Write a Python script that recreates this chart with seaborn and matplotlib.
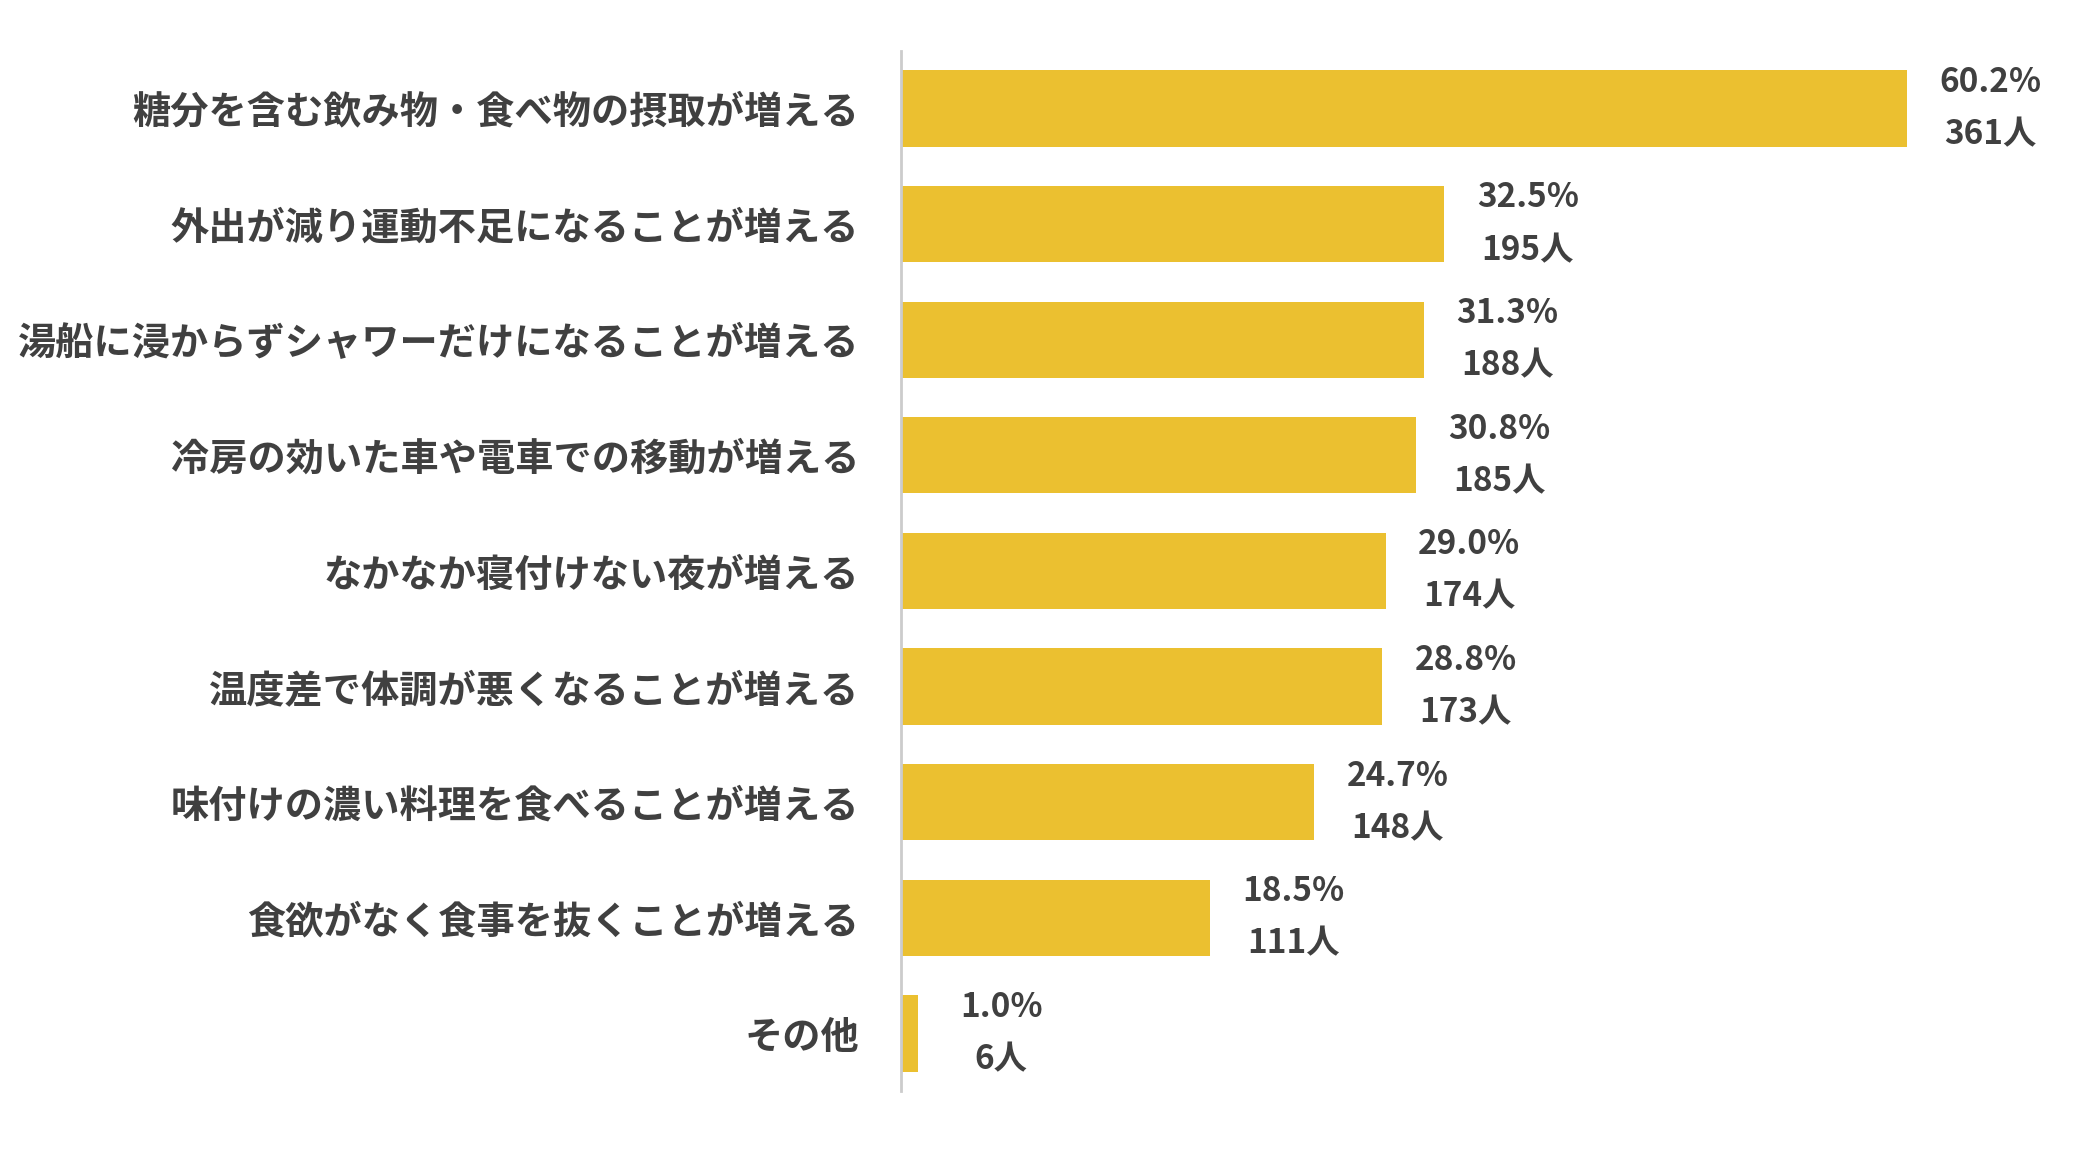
import matplotlib
matplotlib.use("Agg")
import matplotlib.pyplot as plt
import seaborn as sns
import pandas as pd

categories = ["糖分を含む飲み物・食べ物の摂取が増える", "外出が減り運動不足になることが増える",
              "湯船に浸からずシャワーだけになることが増える", "冷房の効いた車や電車での移動が増える",
              "なかなか寝付けない夜が増える", "温度差で体調が悪くなることが増える",
              "味付けの濃い料理を食べることが増える", "食欲がなく食事を抜くことが増える", "その他"]
percent = [60.2, 32.5, 31.3, 30.8, 29.0, 28.8, 24.7, 18.5, 1.0]
counts = [361, 195, 188, 185, 174, 173, 148, 111, 6]

plt.rcParams["font.family"] = "Noto Sans CJK JP"
df = pd.DataFrame({"cat": categories, "pct": percent})
fig = plt.figure(figsize=(20.76, 11.5), dpi=100)
ax = fig.add_axes([0.434, 0.051, 0.566, 0.905])
sns.barplot(data=df, x="pct", y="cat", color="#EBC030", width=0.66, ax=ax, saturation=1)
ax.set_xlim(0, 70.3)
ax.set_ylim(8.5, -0.5)
for i, (p, c) in enumerate(zip(percent, counts)):
    ax.text(p + 5, i, f"{p:.1f}%\n{c}人", ha="center", va="center", fontsize=24,
            fontweight="bold", color="#404040", linespacing=1.75)
for s in ["top", "right", "bottom"]:
    ax.spines[s].set_visible(False)
ax.spines["left"].set_color("#CCCCCC")
ax.spines["left"].set_linewidth(2)
ax.set_xticks([])
ax.set_xlabel("")
ax.set_ylabel("")
ax.tick_params(axis="y", length=0, pad=30, labelsize=27.5, labelcolor="#404040")
for t in ax.get_yticklabels():
    t.set_fontweight("bold")
fig.savefig("out.png", dpi=100)
